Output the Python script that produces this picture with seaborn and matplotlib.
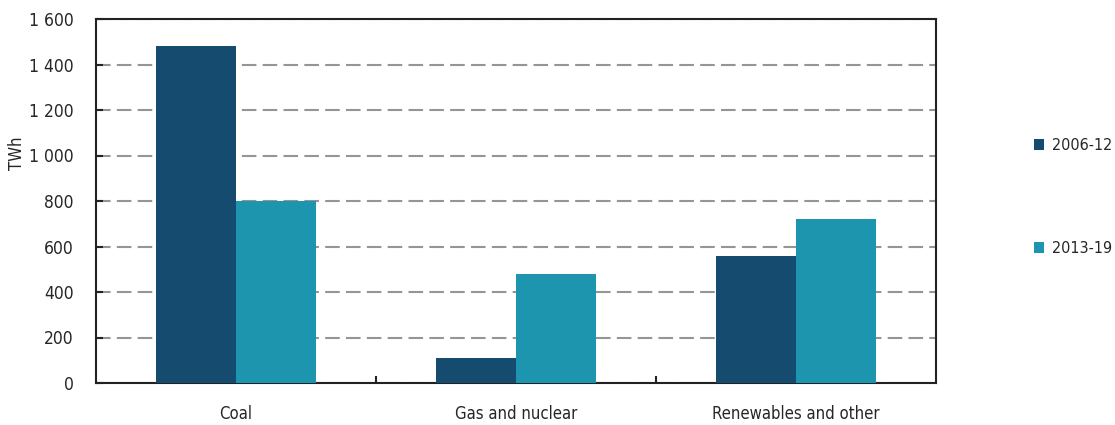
import matplotlib
matplotlib.use("Agg")
import matplotlib.pyplot as plt
from matplotlib import font_manager
from matplotlib.patches import Patch
import pandas as pd
import seaborn as sns

categories = ["Coal", "Gas and nuclear", "Renewables and other"]
periods = ["2006-12", "2013-19"]
values_2006_12 = [1480, 110, 560]
values_2013_19 = [800, 480, 720]
y_ticks = [0, 200, 400, 600, 800, 1000, 1200, 1400, 1600]
y_tick_labels = ["0", "200", "400", "600", "800", "1 000", "1 200", "1 400", "1 600"]
colors = ["#164B70", "#1E95AE"]

names = {f.name for f in font_manager.fontManager.ttflist}

sns.set_theme(style="white")
family = "Liberation Sans Narrow" if "Liberation Sans Narrow" in names else "DejaVu Sans"
plt.rcParams["font.family"] = [family, "DejaVu Sans"]
plt.rcParams["font.stretch"] = "condensed"

df = pd.DataFrame({
    "category": categories * 2,
    "period": [periods[0]] * 3 + [periods[1]] * 3,
    "TWh": values_2006_12 + values_2013_19,
})

fig = plt.figure(figsize=(11.15, 4.25), dpi=100)
ax = fig.add_axes([96 / 1115, 42 / 425, 840 / 1115, 364 / 425])

sns.barplot(data=df, x="category", y="TWh", hue="period", order=categories,
            hue_order=periods, palette=colors, width=0.571, gap=0,
            saturation=1, edgecolor="none", linewidth=0, ax=ax, legend=False,
            zorder=3)

ax.set_xlim(-0.5, 2.5)
ax.set_ylim(0, 1600)
ax.set_yticks(y_ticks)
ax.set_yticklabels(y_tick_labels, fontsize=12.5)
ax.set_xticks([0, 1, 2])
ax.set_xticklabels(categories, fontsize=12)
ax.tick_params(axis="x", which="major", bottom=False, length=0, pad=16)
ax.tick_params(axis="y", left=True, direction="in", length=5, width=1.5,
               color="#222222", pad=16)
ax.set_xlabel("")
ax.set_ylabel("TWh", fontsize=12)
ax.yaxis.set_label_coords(-70 / 840, 0.63)

# category separators drawn as short inward ticks
ax.set_xticks([0.5, 1.5], minor=True)
ax.tick_params(axis="x", which="minor", bottom=True, direction="in", length=5,
               width=1.5, color="#222222")

ax.yaxis.grid(True, linestyle=(0, (7, 3)), color="#959595", linewidth=1.5, zorder=0)
ax.set_axisbelow(True)
for s in ax.spines.values():
    s.set_visible(True)
    s.set_color("#222222")
    s.set_linewidth(1.5)

handles = [Patch(facecolor=c, edgecolor="none") for c in colors]
fig.legend(handles, periods, loc="upper left", bbox_to_anchor=(1034 / 1115, 1 - 138 / 425),
           frameon=False, fontsize=11.5, handlelength=0.65, handleheight=0.65,
           handletextpad=0.5, labelspacing=5.5, borderaxespad=0, borderpad=0)

fig.savefig("out.png", dpi=100)
